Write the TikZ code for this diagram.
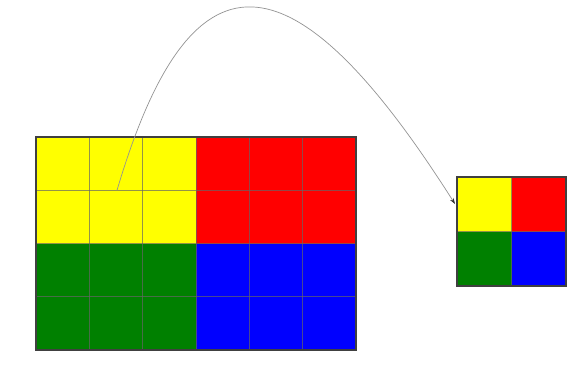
\documentclass[tikz,border=0pt]{standalone}
\usetikzlibrary{arrows.meta}
\definecolor{cyel}{RGB}{255,255,0}
\definecolor{cred}{RGB}{255,0,0}
\definecolor{cgrn}{RGB}{0,128,0}
\definecolor{cblu}{RGB}{0,0,255}
\tikzset{
  gridln/.style={draw=gray!80!black, draw opacity=0.7, line width=1pt},
  frame/.style={draw=black!75, line width=1.1pt},
  curve/.style={draw=gray!85, line width=0.7pt, -{Stealth[length=6pt,width=4pt,black!80]}}
}
\begin{document}
\begin{tikzpicture}[x=1pt,y=-1pt]
\useasboundingbox (0,0) rectangle (570,368);
% big grid: x 36..356, y 137..350
\fill[cyel] (36,137) rectangle (196,244);
\fill[cred] (196,137) rectangle (356,244);
\fill[cgrn] (36,244) rectangle (196,350);
\fill[cblu] (196,244) rectangle (356,350);
\foreach \x in {89.3,142.7,196,249.3,302.7} \draw[gridln] (\x,137) -- (\x,350);
\foreach \y in {190.3,243.5,296.8} \draw[gridln] (36,\y) -- (356,\y);
\draw[frame] (36,137) rectangle (356,350);
% small grid: x 457..566, y 177..286
\fill[cyel] (457,177) rectangle (511.5,231.5);
\fill[cred] (511.5,177) rectangle (566,231.5);
\fill[cgrn] (457,231.5) rectangle (511.5,286);
\fill[cblu] (511.5,231.5) rectangle (566,286);
\draw[gridln] (511.5,177) -- (511.5,286);
\draw[gridln] (457,231.5) -- (566,231.5);
\draw[frame] (457,177) rectangle (566,286);
% arrow
\coordinate (src) at (117,190.3);
\coordinate (dst) at (455,204);
\draw[curve] (src) .. controls (190,-56) and (290,-56) .. (dst);
\end{tikzpicture}
\end{document}
